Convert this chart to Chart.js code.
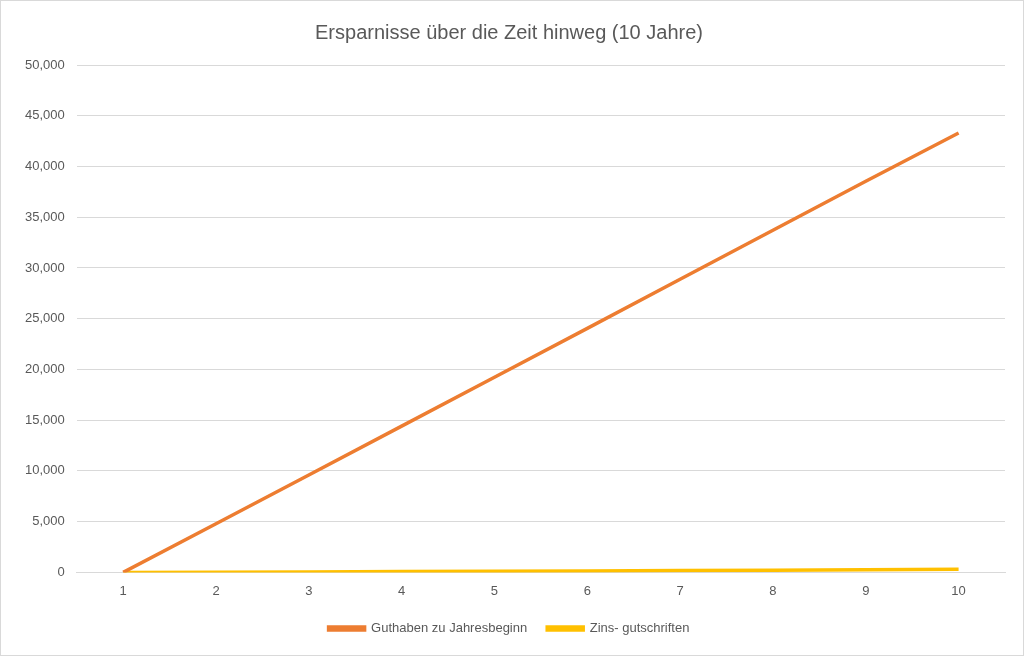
<!DOCTYPE html>
<html>
<head>
<meta charset="utf-8">
<script src="https://cdn.jsdelivr.net/npm/chart.js@4"></script>
<style>
  html, body { margin: 0; padding: 0; background: #fff; }
  #wrap { width: 1022px; height: 654px; border: 1px solid #d9d9d9; }
</style>
</head>
<body>
<div id="wrap"><canvas id="chart" width="1022" height="654"></canvas></div>
<script>
const years = ['1', '2', '3', '4', '5', '6', '7', '8', '9', '10'];
const guthaben = [0, 4800, 9600, 14410, 19230, 24050, 28880, 33710, 38550, 43300];
const zinsen = [0, 20, 50, 80, 110, 150, 180, 210, 260, 300];

const ctx = document.getElementById('chart').getContext('2d');
new Chart(ctx, {
  type: 'line',
  data: {
    labels: years,
    datasets: [{
      label: 'Guthaben zu Jahresbeginn',
      data: guthaben,
      borderColor: '#ED7D31',
      backgroundColor: '#ED7D31',
      borderWidth: 3.5,
      pointRadius: 0,
      tension: 0
    }, {
      label: 'Zins- gutschriften',
      data: zinsen,
      borderColor: '#FFC000',
      backgroundColor: '#FFC000',
      borderWidth: 3.5,
      pointRadius: 0,
      tension: 0
    }]
  },
  options: {
    responsive: false,
    animation: false,
    layout: { padding: { left: 12, right: 18, top: 8, bottom: 10 } },
    plugins: {
      title: {
        display: true,
        text: 'Ersparnisse über die Zeit hinweg (10 Jahre)',
        color: '#595959',
        font: { family: 'Liberation Sans', size: 20, weight: 'normal' },
        padding: { top: 12, bottom: 20 }
      },
      legend: {
        position: 'bottom',
        labels: {
          color: '#595959',
          font: { family: 'Liberation Sans', size: 13 },
          boxWidth: 36,
          boxHeight: 3,
          padding: 20
        }
      }
    },
    scales: {
      x: {
        offset: true,
        grid: { display: false },
        border: { color: '#d9d9d9' },
        ticks: { color: '#595959', font: { family: 'Liberation Sans', size: 13 } }
      },
      y: {
        min: 0,
        max: 50000,
        ticks: { stepSize: 5000, color: '#595959', padding: 12, font: { family: 'Liberation Sans', size: 13 } },
        grid: { color: '#d9d9d9', drawTicks: false },
        border: { display: false }
      }
    }
  }
});
</script>
</body>
</html>
